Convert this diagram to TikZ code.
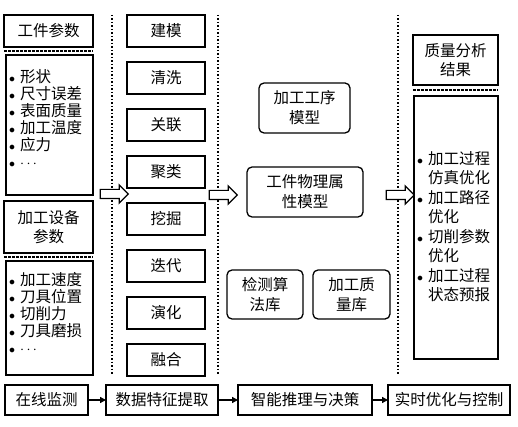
\documentclass[tikz,border=0pt]{standalone}
\usepackage{fontspec}
\setmainfont{Noto Sans CJK SC}
\usetikzlibrary{positioning,arrows.meta,shapes.arrows}

\newcommand{\dotitem}{\makebox[11pt][l]{\fontsize{12}{12}\selectfont$\bullet$}}
\newcommand{\dotgap}{\hspace*{11pt}}

\tikzset{
  box/.style={draw, line width=1.6pt, inner sep=0pt, outer sep=0pt, align=center,
    font=\fontsize{15.5}{19}\selectfont},
  listbox/.style={draw, line width=1.4pt, inner sep=0pt},
  listtext/.style={anchor=north west, inner sep=0pt, align=left},
  rbox/.style={draw, line width=1.3pt, rounded corners=5pt, inner sep=0pt, align=center,
    font=\fontsize{15.5}{20}\selectfont},
  hollow/.style={single arrow, draw, line width=1.2pt, fill=white, inner sep=0pt,
    minimum height=28pt, single arrow head extend=4.5pt},
  sep/.style={dotted, line width=1.5pt},
  cut/.style={dashed, line width=1.3pt, dash pattern=on 2.5pt off 1.5pt},
  flow/.style={-{Triangle[length=6pt,width=6pt]}, line width=1.4pt},
}

\begin{document}
\begin{tikzpicture}[x=1pt, y=-1pt]
\useasboundingbox (0,0) rectangle (518,427);

% separators
\coordinate (s1t) at (112,15);  \coordinate (s1b) at (112,375);
\coordinate (s2t) at (218,15);  \coordinate (s2b) at (218,375);
\coordinate (s3t) at (398,15);  \coordinate (s3b) at (398,375);
\draw[sep] (s1t) -- (s1b);
\draw[sep] (s2t) -- (s2b);
\draw[sep] (s3t) -- (s3b);

% left column
\node[box, minimum width=89pt, minimum height=32pt] (part) at (48.5,31) {工件参数};
\draw[cut] (4,51) -- (93,51);
\node[listbox, minimum width=87pt, minimum height=140pt] (partlist) at (49.5,125) {};
\node[listtext, font=\fontsize{15.5}{17}\selectfont] (parttxt) at (9,69)
  {\dotitem 形状\\\dotitem 尺寸误差\\\dotitem 表面质量\\\dotitem 加工温度\\\dotitem 应力\\\dotitem $\cdots$};

\node[box, minimum width=89pt, minimum height=52pt] (equip) at (48.5,227) {加工设备\\参数};
\draw[cut] (4,257) -- (93,257);
\node[listbox, minimum width=87pt, minimum height=114pt] (equiplist) at (49.5,318) {};
\node[listtext, font=\fontsize{15.5}{17}\selectfont] (equiptxt) at (9,272)
  {\dotitem 加工速度\\\dotitem 刀具位置\\\dotitem 切削力\\\dotitem 刀具磨损\\\dotitem $\cdots$};

% middle column
\node[box, minimum width=78pt, minimum height=32pt] (m1) at (166,31) {建模};
\node[box, minimum width=78pt, minimum height=32pt, below=15pt of m1] (m2) {清洗};
\node[box, minimum width=78pt, minimum height=32pt, below=15pt of m2] (m3) {关联};
\node[box, minimum width=78pt, minimum height=32pt, below=15pt of m3] (m4) {聚类};
\node[box, minimum width=78pt, minimum height=32pt, below=15pt of m4] (m5) {挖掘};
\node[box, minimum width=78pt, minimum height=32pt, below=15pt of m5] (m6) {迭代};
\node[box, minimum width=78pt, minimum height=32pt, below=15pt of m6] (m7) {演化};
\node[box, minimum width=78pt, minimum height=32pt, below=15pt of m7] (m8) {融合};

% models
\node[rbox, minimum width=91pt, minimum height=50pt] (proc) at (304.5,108) {加工工序\\模型};
\node[rbox, minimum width=116pt, minimum height=50pt] (phys) at (305,192) {工件物理属\\性模型};
\node[rbox, minimum width=76pt, minimum height=49pt] (algo) at (265,294.5) {检测算\\法库};
\node[rbox, minimum width=77pt, minimum height=49pt] (qlib) at (351.5,294.5) {加工质\\量库};

% right column
\node[box, minimum width=85pt, minimum height=50pt] (result) at (455.5,60) {质量分析\\结果};
\draw[cut] (413,90) -- (498,90);
\node[listbox, minimum width=84pt, minimum height=263pt] (resultlist) at (456,227.5) {};
\node[listtext, font=\fontsize{15.5}{19.5}\selectfont] (resulttxt) at (417,151)
  {\dotitem 加工过程\\\dotgap 仿真优化\\\dotitem 加工路径\\\dotgap 优化\\\dotitem 切削参数\\\dotgap 优化\\\dotitem 加工过程\\\dotgap 状态预报};

% hollow arrows
\node[hollow] (ha1) at (112,194) {\rule{0pt}{8pt}};
\node[hollow] (ha2) at (221,195) {\rule{0pt}{8pt}};
\node[hollow] (ha3) at (398,195) {\rule{0pt}{8pt}};

% bottom flow
\node[box, minimum width=83pt, minimum height=30pt] (b1) at (46.5,400) {在线监测};
\node[box, minimum width=112pt, minimum height=30pt] (b2) at (162,400) {数据特征提取};
\node[box, minimum width=134pt, minimum height=30pt] (b3) at (305,400) {智能推理与决策};
\node[box, minimum width=122pt, minimum height=30pt] (b4) at (449,400) {实时优化与控制};
\draw[flow] (b1) -- (b2);
\draw[flow] (b2) -- (b3);
\draw[flow] (b3) -- (b4);
\end{tikzpicture}
\end{document}
